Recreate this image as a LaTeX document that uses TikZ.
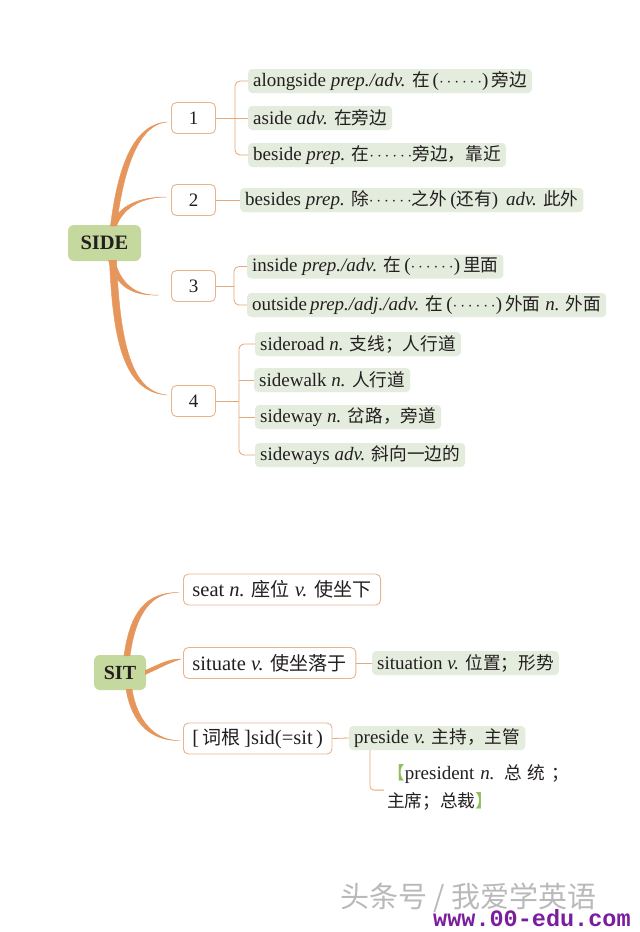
\documentclass[tikz,border=0pt]{standalone}
\usepackage{fontspec}
\setmainfont{Liberation Serif}
\newfontfamily\cjk{Noto Sans CJK SC}[Scale=0.93]
\newfontfamily\wmcjk{Noto Sans CJK SC}
\newfontfamily\wmmono{Liberation Mono}
\usetikzlibrary{calc}
\definecolor{ink}{HTML}{231F20}
\definecolor{rootgreen}{HTML}{C5D89E}
\definecolor{leafgreen}{HTML}{E4ECDD}
\definecolor{boxline}{HTML}{E8B48C}
\definecolor{connline}{HTML}{E5A878}
\definecolor{branchc}{HTML}{E6965A}
\definecolor{brgreen}{HTML}{8DBE5A}
\definecolor{wmpurple}{HTML}{7B1E9E}
\newcommand\zh[1]{{\cjk #1}}
\newcommand\dotsline{$\cdots\cdots$}
\newcommand\lp{\hspace{3pt}(}
\newcommand\rp{)\hspace{3pt}}
\newcommand\branchto[5]{%
  \filldraw[branchc, line width=0.4pt] #1 .. controls #2 and #3 .. #4
    .. controls ($#3+#5$) and ($#2+#5$) .. ($#1+#5$) -- cycle;}
\begin{document}
\begin{tikzpicture}[x=1pt,y=-1pt,
  every node/.style={text=ink},
  root/.style={fill=rootgreen, rounded corners=6pt, minimum width=73pt, minimum height=36pt,
    inner sep=0pt, font=\fontsize{20.5}{24}\selectfont\bfseries},
  numbox/.style={draw=boxline, line width=0.9pt, fill=white, rounded corners=5pt,
    minimum width=44pt, minimum height=31pt, inner sep=0pt, font=\fontsize{19}{22}\selectfont},
  leaf/.style={fill=leafgreen, rounded corners=4pt, anchor=west, minimum height=24pt,
    inner xsep=5pt, inner ysep=0pt, font=\fontsize{19}{22}\selectfont},
  wbox/.style={draw=boxline, line width=0.9pt, fill=white, rounded corners=5pt, anchor=west,
    minimum height=31pt, inner xsep=9pt, inner ysep=0pt, font=\fontsize{20.5}{24}\selectfont},
  conn/.style={draw=connline, line width=0.8pt}
]
\useasboundingbox[fill=white] (0,0) rectangle (640,932);

% ---------- SIDE ----------
\node[root] (side) at (104.5,243) {SIDE};
\node[numbox] (n1) at (193.5,118) {1};
\node[numbox] (n2) at (193.5,200) {2};
\node[numbox] (n3) at (193.5,286) {3};
\node[numbox] (n4) at (193.5,401) {4};

\node[leaf] (al) at (248,81) {alongside \textit{prep./adv.} \zh{在}\lp\dotsline\rp\zh{旁边}};
\node[leaf] (as) at (248,118) {aside \textit{adv.} \zh{在旁边}};
\node[leaf] (bs) at (248,155) {beside \textit{prep.} \zh{在}\dotsline\zh{旁边，靠近}};
\node[leaf] (bss) at (240,200) {besides \textit{prep.} \zh{除}\dotsline\zh{之外}\lp\zh{还有}\rp\ \textit{adv.} \zh{此外}};
\node[leaf] (ins) at (247,266.5) {inside \textit{prep./adv.} \zh{在}\lp\dotsline\rp\zh{里面}};
\node[leaf] (outs) at (247,305) {outside\hspace{3pt}\textit{prep./adj./adv.} \zh{在}\lp\dotsline\rp\zh{外面} \textit{n.} \zh{外面}};
\node[leaf] (sr) at (255,344) {sideroad \textit{n.} \zh{支线；人行道}};
\node[leaf] (sw) at (254,380) {sidewalk \textit{n.} \zh{人行道}};
\node[leaf] (sy) at (255,417) {sideway \textit{n.} \zh{岔路，旁道}};
\node[leaf] (sys) at (255,455) {sideways \textit{adv.} \zh{斜向一边的}};

% branches
\branchto{($(side.north)+(12,1)$)}{(124,165)}{(140,124)}{($(n1.west)+(-4,4)$)}{(-6,0)}
\branchto{($(side.north)+(12,1)$)}{(125,205)}{(145,197)}{($(n2.west)+(-4,-3)$)}{(-6,0)}
\branchto{($(side.south)+(10,-1)$)}{(122,288)}{(140,296)}{($(n3.west)+(-12,9)$)}{(-6,0)}
\branchto{($(side.south)+(12,-1)$)}{(120,345)}{(132,392)}{($(n4.west)+(-4,-6)$)}{(-7,0)}

% connectors
\coordinate (j1) at ($(n1.east)+(19,0)$);
\draw[conn, rounded corners=5pt] (al.west) -| (j1) |- (bs.west);
\draw[conn] (n1.east) -- (as.west);
\draw[conn] (n2.east) -- (bss.west);
\coordinate (j3) at ($(n3.east)+(18,0)$);
\draw[conn, rounded corners=5pt] (ins.west) -| (j3) |- (outs.west);
\draw[conn] (n3.east) -- (j3);
\coordinate (j4) at ($(n4.east)+(23,0)$);
\draw[conn, rounded corners=5pt] (sr.west) -| (j4) |- (sys.west);
\draw[conn] (n4.east) -- (j4);
\draw[conn] (sw.west) -- (sw.west -| j4);
\draw[conn] (sy.west) -- (sy.west -| j4);

% ---------- SIT ----------
\node[root, minimum width=52pt, minimum height=35pt, font=\fontsize{20}{24}\selectfont\bfseries] (sit) at (120,672.5) {SIT};
\node[wbox] (seat) at (183,589.5) {seat \textit{n.} \zh{座位} \textit{v.} \zh{使坐下}};
\node[wbox] (situate) at (183,663) {situate \textit{v.} \zh{使坐落于}};
\node[leaf] (situation) at (372,663) {situation \textit{v.} \zh{位置；形势}};
\node[wbox] (sid) at (183,738.5) {[\,\zh{词根}\,]sid(=sit\,)};
\node[leaf] (preside) at (349,738) {preside \textit{v.} \zh{主持，主管}};
\node[anchor=north west, align=left, inner sep=0pt, font=\fontsize{19}{28}\selectfont] (pres) at (387,764)
  {\makebox[182pt][s]{{\color{brgreen}\zh{【}}president \textit{n.} \zh{总} \zh{统} \zh{；}}\\
   \zh{主席；总裁}{\color{brgreen}\zh{】}}};

\branchto{($(sit.north)+(10,1)$)}{(136,612)}{(152,592)}{($(seat.west)+(-4,3)$)}{(-6,0)}
\branchto{($(sit.east)+(-1,-2)$)}{(160,664)}{(168,659)}{($(situate.west)+(-2,-4)$)}{(0,4)}
\branchto{($(sit.south)+(12,-1)$)}{(138,725)}{(158,741)}{($(sid.west)+(-3,2)$)}{(-6,0)}

\draw[conn] (situate.east) -- (situation.west);
\draw[conn] (sid.east) -- (preside.west);
\coordinate (pj) at ($(preside.south west)+(21,0)$);
\draw[conn, rounded corners=4pt] (pj) |- ($(pres.west)+(-3,3)$);

% ---------- watermark ----------
\node[anchor=west, inner sep=0pt, text=gray!55, font=\wmcjk\fontsize{29}{32}\selectfont] (wm1) at (340,898) {头条号 / 我爱学英语};
\node[anchor=base west, inner sep=0pt, text=wmpurple, font=\wmmono\bfseries\fontsize{23.5}{26}\selectfont] (wm2) at (433,926) {www.00-edu.com};
\end{tikzpicture}
\end{document}
